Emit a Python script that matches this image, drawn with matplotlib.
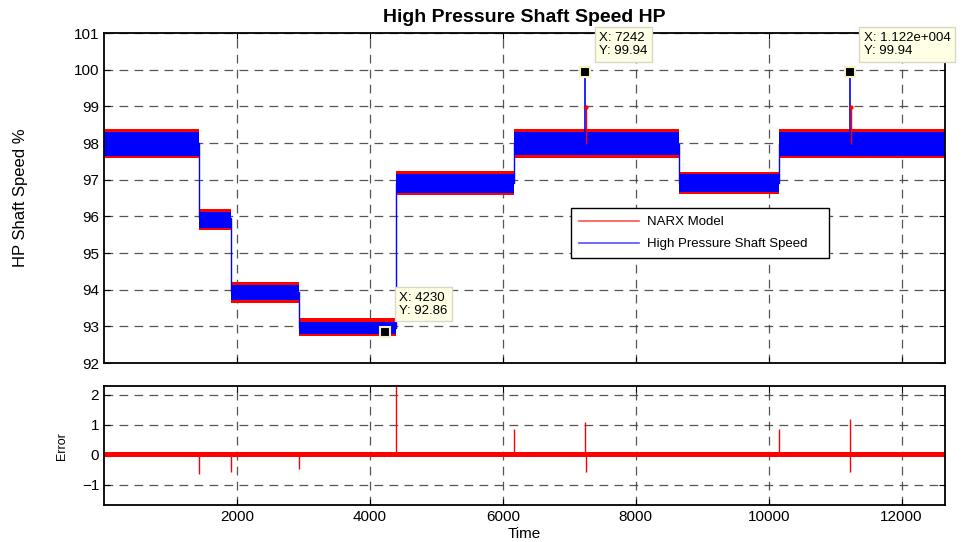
import numpy as np
import matplotlib.pyplot as plt

plt.rcParams['font.family'] = ['Liberation Sans', 'DejaVu Sans']

# segments of the shaft speed run (sample index)
seg_start = [0, 1430, 1905, 2932, 4395, 6175, 8647, 10155]
seg_end = [1430, 1905, 2932, 4395, 6175, 8647, 10155, 12650]
seg_level = [98.0, 95.95, 93.95, 92.95, 96.9, 97.98, 96.9, 97.98]
# noise envelope
blue_lo = [97.65, 95.68, 93.72, 92.8, 96.65, 97.68, 96.66, 97.66]
blue_hi = [98.3, 96.12, 94.12, 93.12, 97.15, 98.3, 97.15, 98.3]
red_lo = [97.58, 95.63, 93.64, 92.74, 96.58, 97.6, 96.62, 97.6]
red_hi = [98.38, 96.2, 94.2, 93.22, 97.24, 98.38, 97.22, 98.38]

# isolated peaks (sample, measured, model)
peak_x = [7242, 11220]
peak_meas = [99.94, 99.94]
peak_model = [98.98, 98.98]

# data tips
tip_x = [7242, 11220, 4230]
tip_y = [99.94, 99.94, 92.86]
tip_text = ['X: 7242\nY: 99.94', 'X: 1.122e+004\nY: 99.94', 'X: 4230\nY: 92.86']

# error signal
err_band = 0.08
err_spike_x = [1430, 1905, 2932, 4395, 6175, 7242, 7255, 10155, 11220, 11228]
err_spike_y = [-0.66, -0.58, -0.49, 2.3, 0.84, 1.07, -0.58, 0.84, 1.17, -0.58]

fig = plt.figure(figsize=(9.72, 5.42), dpi=100)
ax1 = fig.add_axes([0.107, 0.330, 0.865, 0.609])
ax2 = fig.add_axes([0.107, 0.068, 0.865, 0.2196])

# -------------------------------------
# top panel
edges = np.array(seg_start + [seg_end[-1]])
def stepped(v):
    return np.append(v, v[-1])

ax1.fill_between(edges, stepped(red_lo), stepped(red_hi), step='post',
                 color='red', lw=0)
ax1.fill_between(edges, stepped(blue_lo), stepped(blue_hi), step='post',
                 color='blue', lw=0)
ax1.step(edges, stepped(seg_level), where='post', color='blue', lw=1)
# peaks
for i in range(len(peak_x)):
    lev = seg_level[np.searchsorted(seg_start, peak_x[i]) - 1]
    ax1.vlines(peak_x[i], lev, peak_meas[i], color='blue', lw=1.2)
    ax1.vlines(peak_x[i] + 15, lev, peak_model[i], color='red', lw=1)
    ax1.plot(peak_x[i] + 15, peak_model[i], 'o', color='red', ms=2)

ax1.plot([], [], color='#ff5050', lw=1.2, label='NARX Model')
ax1.plot([], [], color='#5050ff', lw=1.2, label='High Pressure Shaft Speed')
leg = ax1.legend(loc='upper left', bbox_to_anchor=(0.556, 0.32, 0.306, 0.15),
                 mode='expand', borderaxespad=0, fontsize=9.5, frameon=True,
                 fancybox=False, edgecolor='black', facecolor='white',
                 framealpha=1, handlelength=4.5, handletextpad=0.6,
                 borderpad=0.6, labelspacing=0.75)
leg.get_frame().set_linewidth(1)

for i in range(len(tip_x)):
    ax1.plot(tip_x[i], tip_y[i], 's', color='black', ms=7, mec='#f5f0c8',
             mew=1.5, zorder=5, clip_on=False)
    ax1.annotate(tip_text[i], (tip_x[i], tip_y[i]), xytext=(14, 15),
                 textcoords='offset pixels', fontsize=9.5, ha='left',
                 va='bottom', annotation_clip=False, zorder=6,
                 linespacing=1.1,
                 bbox=dict(boxstyle='square,pad=0.35', fc='#ffffe6',
                           ec='#d8d8c8', lw=1))

ax1.set_xlim(0, 12650)
ax1.set_ylim(92, 101)
ax1.set_yticks(range(92, 102))
ax1.set_xticks(range(2000, 12001, 2000))
ax1.set_xticklabels([])
ax1.set_title('High Pressure Shaft Speed HP', fontsize=14, fontweight='bold',
              pad=8)
ax1.set_ylabel('HP Shaft Speed %', fontsize=12, labelpad=33)

# -------------------------------------
# bottom panel
ax2.fill_between([0, 12650], -err_band, err_band, color='red', lw=0)
ax2.vlines(err_spike_x, 0, err_spike_y, color='red', lw=1)
ax2.set_xlim(0, 12650)
ax2.set_ylim(-1.68, 2.28)
ax2.set_yticks([-1, 0, 1, 2])
ax2.set_xticks(range(2000, 12001, 2000))
ax2.set_xlabel('Time', fontsize=11, labelpad=2)
ax2.set_ylabel('Error', fontsize=9, labelpad=10)

for ax in (ax1, ax2):
    ax.grid(True, color='#444444', ls=(0, (7, 5)), lw=0.9, alpha=0.9)
    ax.tick_params(direction='in', top=True, right=True, labelsize=11,
                   length=4)
    for s in ax.spines.values():
        s.set_linewidth(1.3)
    ax.set_axisbelow(True)

fig.savefig('out.png', dpi=100)
